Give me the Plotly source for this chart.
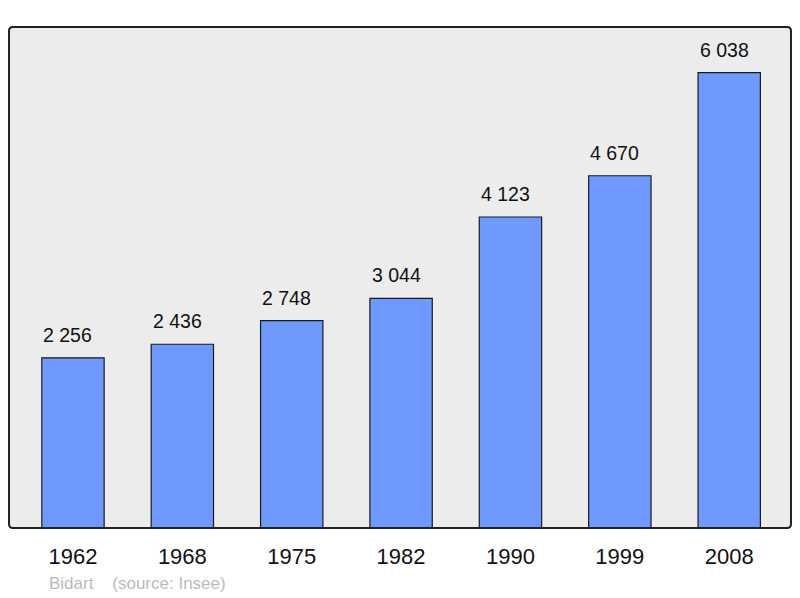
import plotly.graph_objects as go

years = ["1962", "1968", "1975", "1982", "1990", "1999", "2008"]
population = [2256, 2436, 2748, 3044, 4123, 4670, 6038]
footer = "Bidart    (source: Insee)"

def fmt(v):
    return f"{v:,}".replace(",", " ")

# page body has an 8px margin, so figure coords = page coords - 8
OFF = 8
W, H = 784, 590
ml, mt = 9 - OFF, 27 - OFF
pw, ph = 782, 501
mr = W - ml - pw
mb = H - mt - ph

fig = go.Figure()
fig.add_trace(go.Bar(
    x=list(range(len(years))), y=population,
    width=0.57,
    marker=dict(color="#7099ff", line=dict(color="#1a1a1a", width=1.2)),
    hoverinfo="skip",
))

for i, v in enumerate(population):
    fig.add_annotation(x=i, y=v, text=fmt(v), showarrow=False,
                       yanchor="bottom", yshift=10, xshift=-5,
                       font=dict(family="Liberation Sans, Arial", size=19.5, color="#111"))

# rounded frame
rx, ry = 4 / pw, 4 / ph
path = (f"M {rx} 0 L {1-rx} 0 Q 1 0 1 {ry} L 1 {1-ry} Q 1 1 {1-rx} 1 "
        f"L {rx} 1 Q 0 1 0 {1-ry} L 0 {ry} Q 0 0 {rx} 0 Z")
fig.add_shape(type="path", path=path, xref="paper", yref="paper",
              line=dict(color="#222", width=2), layer="above")

fig.add_annotation(text=footer, xref="paper", yref="paper", x=(47 - 9) / pw,
                   y=-(583 - 528) / ph, xanchor="left", yanchor="middle",
                   showarrow=False,
                   font=dict(family="Liberation Sans, Arial", size=17, color="#bbbbbb"))

fig.update_layout(
    width=W, height=H,
    margin=dict(l=ml, r=mr, t=mt, b=mb, pad=0),
    paper_bgcolor="white", plot_bgcolor="#ececec",
    showlegend=False,
    xaxis=dict(range=[-0.585, 6.565], tickmode="array",
               tickvals=list(range(len(years))), ticktext=years,
               showgrid=False, zeroline=False, showline=False,
               ticks="outside", ticklen=9, tickcolor="rgba(0,0,0,0)",
               tickfont=dict(family="Liberation Sans, Arial", size=22, color="#111"),
               fixedrange=True),
    yaxis=dict(range=[0, 6642], showgrid=False, zeroline=False,
               showticklabels=False, showline=False, fixedrange=True),
)

fig.write_html("out.html")
